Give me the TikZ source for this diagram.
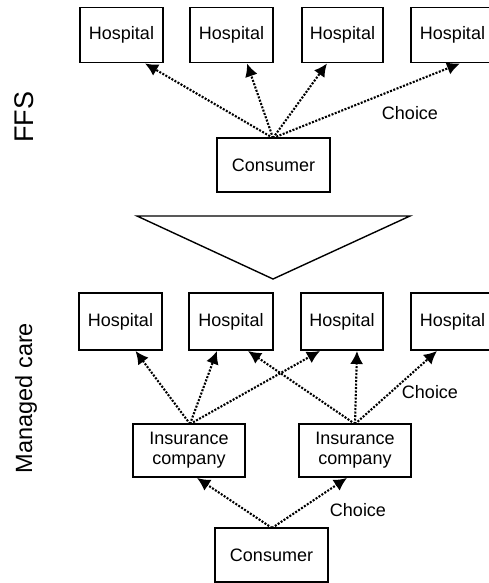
\documentclass[tikz,border=0pt]{standalone}
\usepackage{fontspec}
\setmainfont{Liberation Sans}
\usetikzlibrary{arrows.meta}
\tikzset{
  box/.style={draw, line width=1.9pt, inner sep=0pt, font=\fontsize{18}{20}\selectfont, align=center},
  hosp/.style={box, minimum width=83pt, minimum height=55pt},
  cons/.style={box, minimum width=113pt, minimum height=54pt},
  ins/.style={box, minimum width=112pt, minimum height=53pt},
  choice/.style={dash pattern=on 2pt off 1.5pt, line width=2.1pt, -{Latex[length=13pt,width=13pt]}},
  lbl/.style={font=\fontsize{18}{20}\selectfont, inner sep=0pt},
  side/.style={rotate=90, anchor=base, inner sep=0pt}
}
\begin{document}
\begin{tikzpicture}[x=1pt,y=-1pt]
\useasboundingbox (0,0) rectangle (489,583);
\begin{scope}
\clip (0,0) rectangle (489,583);
% FFS
\node[hosp] (a1) at (121.5,35) {Hospital};
\node[hosp] (a2) at (231.5,35) {Hospital};
\node[hosp, minimum width=81pt] (a3) at (342.5,35) {Hospital};
\node[hosp] (a4) at (452.5,35) {Hospital};
\node[cons] (ac) at (273.5,165) {Consumer};
\coordinate (acs) at (273,138);
\draw[choice] (acs) -- ([xshift=23.5pt]a1.south);
\draw[choice] (acs) -- ([xshift=15.5pt]a2.south);
\draw[choice] (acs) -- ([xshift=-15.5pt]a3.south);
\draw[choice] (acs) -- ([xshift=7.5pt]a4.south);
\node[lbl] (ach) at (410,113) {Choice};
\node[side, font=\fontsize{27}{30}\selectfont] (ffs) at (33,117) {FFS};
% transition triangle
\coordinate (t1) at (137,216);
\coordinate (t2) at (410,216);
\coordinate (t3) at (273,279);
\draw[line width=1.4pt, line join=miter] (t1) -- (t2) -- (t3) -- cycle;
% Managed care
\node[hosp, minimum height=57pt] (b1) at (120.5,321.5) {Hospital};
\node[hosp, minimum height=57pt, minimum width=84pt] (b2) at (231,321.5) {Hospital};
\node[hosp, minimum height=57pt, minimum width=82pt] (b3) at (342,321.5) {Hospital};
\node[hosp, minimum height=57pt] (b4) at (452.5,321.5) {Hospital};
\node[ins] (i1) at (189,450.5) {Insurance\\company};
\node[ins] (i2) at (355,450.5) {Insurance\\company};
\node[cons] (bc) at (271.5,555) {Consumer};
\coordinate (i1n) at (190,424);
\coordinate (i2n) at (355,424);
\coordinate (bcn) at (272,528);
\draw[choice] (i1n) -- ([xshift=15pt]b1.south);
\draw[choice] (i1n) -- ([xshift=-14pt]b2.south);
\draw[choice] (i1n) -- ([xshift=-22pt]b3.south);
\draw[choice] (i2n) -- ([xshift=17pt]b2.south);
\draw[choice] (i2n) -- ([xshift=15pt]b3.south);
\draw[choice] (i2n) -- ([xshift=-15.5pt]b4.south);
\draw[choice] (bcn) -- ([xshift=8pt]i1.south);
\draw[choice] (bcn) -- ([xshift=-8pt]i2.south);
\node[lbl] (bch1) at (430,392) {Choice};
\node[lbl] (bch2) at (358,510) {Choice};
\node[side, font=\fontsize{23.5}{26}\selectfont] (mc) at (32,398) {Managed care};
\end{scope}
\end{tikzpicture}
\end{document}
